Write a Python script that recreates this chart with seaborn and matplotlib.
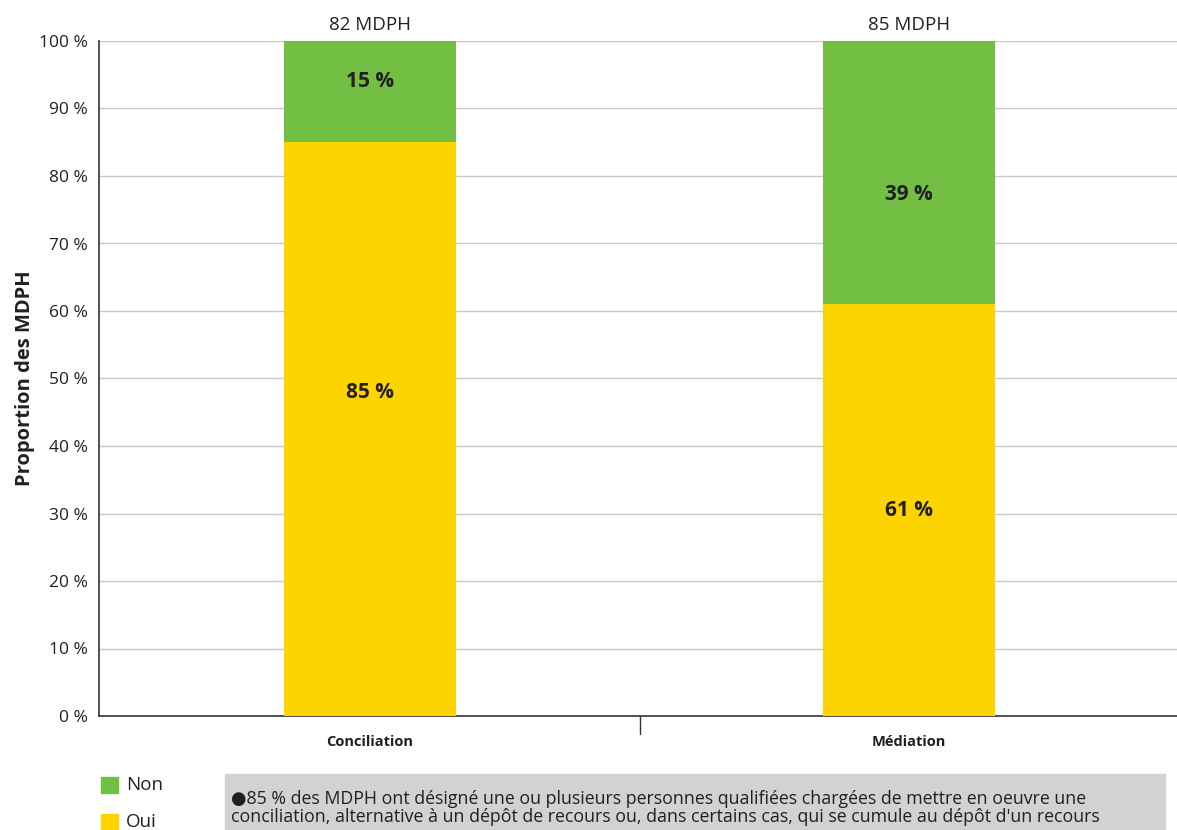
import matplotlib
matplotlib.use("Agg")
import matplotlib.pyplot as plt
import seaborn as sns
import pandas as pd

categories = ["Conciliation", "Médiation"]
oui = [85, 61]
non = [15, 39]
mdph_counts = ["82 MDPH", "85 MDPH"]
y_ticks = [0, 10, 20, 30, 40, 50, 60, 70, 80, 90, 100]
legend_labels = ["Non", "Oui"]
note_text = ("\u25CF85 % des MDPH ont désigné une ou plusieurs personnes qualifiées chargées de mettre en oeuvre une\n"
             "conciliation, alternative à un dépôt de recours ou, dans certains cas, qui se cumule au dépôt d'un recours")

GREEN = "#72BF44"
YELLOW = "#FDD300"
TEXT = "#231F20"

sns.set_theme(style="white")
plt.rcParams["font.family"] = ["Open Sans", "DejaVu Sans"]

df = pd.DataFrame({"categorie": categories, "Oui": oui, "Non": non})
df["total"] = df["Oui"] + df["Non"]

fig = plt.figure(figsize=(11.77, 8.3), dpi=100)
ax = fig.add_axes([99 / 1177, 1 - 716 / 830, 1 - 99 / 1177, (716 - 41) / 830])

# Stacked bars: full height (Non on top), then Oui drawn over it
sns.barplot(data=df, x="categorie", y="total", color=GREEN, width=0.32,
            saturation=1, linewidth=0, ax=ax, zorder=3)
sns.barplot(data=df, x="categorie", y="Oui", color=YELLOW, width=0.32,
            saturation=1, linewidth=0, ax=ax, zorder=3)

ax.set_xlim(-0.503, 1.497)
ax.set_ylim(0, 100)
ax.set_yticks(y_ticks)
ax.set_yticklabels([f"{v} %" for v in y_ticks], fontsize=12.5, color=TEXT)
ax.tick_params(axis="y", length=0, pad=8)
ax.set_xticks([0, 1])
ax.set_xticklabels(categories, fontsize=10.5, fontweight="bold", color=TEXT)
ax.tick_params(axis="x", length=0, pad=14)
ax.set_xlabel("")
ax.set_ylabel("Proportion des MDPH", fontsize=14.5, fontweight="bold",
              color=TEXT, labelpad=3)

ax.grid(axis="y", color="#C8C8C8", linewidth=1, zorder=0)
ax.set_axisbelow(True)
for side in ["top", "right"]:
    ax.spines[side].set_visible(False)
for side in ["left", "bottom"]:
    ax.spines[side].set_color("#333333")
    ax.spines[side].set_linewidth(1.2)

# Category separator tick below the axis
ax.plot([0.5, 0.5], [0, -2.6], color="#333333", linewidth=1, clip_on=False)

# Segment labels (slightly shifted inside the segments) and counts above the bars
oui_shift = [5.4, 0]
non_shift = [1.5, -3.3]
for i, (o, n) in enumerate(zip(oui, non)):
    ax.text(i, o / 2 + oui_shift[i], f"{o} %", ha="center", va="center",
            fontsize=15, fontweight="bold", color=TEXT, zorder=4)
    ax.text(i, o + n / 2 + non_shift[i], f"{n} %", ha="center", va="center",
            fontsize=15, fontweight="bold", color=TEXT, zorder=4)
    ax.text(i, o + n + 1.1, mdph_counts[i], ha="center", va="bottom",
            fontsize=13.5, color=TEXT)

# Legend squares
legend_colors = [GREEN, YELLOW]
legend_y = [785, 822]
for lab, col, yy in zip(legend_labels, legend_colors, legend_y):
    fy = 1 - yy / 830
    fig.patches.append(plt.Rectangle((101 / 1177, fy - 8 / 830), 17 / 1177, 16 / 830,
                                     transform=fig.transFigure, color=col))
    fig.text(126 / 1177, fy, lab, ha="left", va="center", fontsize=13.5, color=TEXT)

# Note box
fig.patches.append(plt.Rectangle((225 / 1177, 0), (1165 - 225) / 1177, 56 / 830,
                                 transform=fig.transFigure, color="#D1D2D4"))
fig.text(231 / 1177, 1 - 808 / 830, note_text, ha="left", va="center",
         fontsize=12.8, color=TEXT, linespacing=1.0)

fig.savefig("out.png", dpi=100)
